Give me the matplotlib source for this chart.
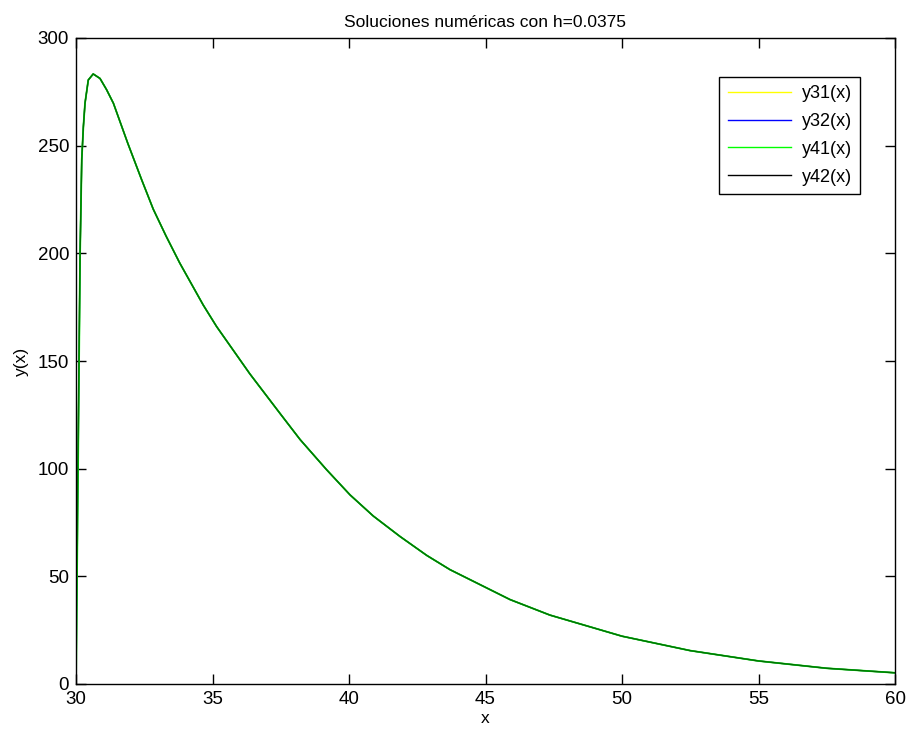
import matplotlib
matplotlib.use("Agg")
import matplotlib.pyplot as plt

plt.rcParams['font.family'] = ['Liberation Sans', 'DejaVu Sans']

# Values
x_vals = [30.0, 30.15, 30.21, 30.27, 30.33, 30.45, 30.63, 30.88, 31.12, 31.37,
          31.9, 32.41, 32.83, 33.3, 33.8, 34.66, 35.15, 35.76, 36.37, 37.47,
          38.21, 39.18, 40.04, 40.89, 41.87, 42.85, 43.7, 45.9, 47.36, 50.0,
          52.5, 55.0, 57.5, 60.0]
y_vals = [0.0, 200.0, 243.4, 258.8, 269.7, 280.5, 283.3, 281.2, 276.0, 269.7,
          251.0, 234.0, 220.5, 208.0, 195.5, 176.0, 166.0, 155.0, 144.0, 125.7,
          113.5, 99.5, 87.8, 78.0, 68.5, 59.7, 53.1, 39.2, 32.0, 22.2,
          15.5, 10.7, 7.3, 5.2]
y42_start = 19.5  # black series starts here at x=30

series_names = ['y31(x)', 'y32(x)', 'y41(x)', 'y42(x)']
series_colors = ['#ffff00', '#0000ff', '#00ff00', '#000000']
x_ticks = [30, 35, 40, 45, 50, 55, 60]
y_ticks = [0, 50, 100, 150, 200, 250, 300]

fig = plt.figure(figsize=(9.06, 7.31), dpi=100)
ax = fig.add_axes([76/906, 1-684/731, (895-76)/906, (684-38)/731])

y42 = [y42_start] + y_vals[1:]
ax.plot(x_vals, y_vals, color=series_colors[0], lw=1.0, label=series_names[0])
ax.plot(x_vals, y_vals, color=series_colors[1], lw=1.0, label=series_names[1])
ax.plot(x_vals, y_vals, color=series_colors[2], lw=1.3, label=series_names[2])
ax.plot(x_vals, y42, color=series_colors[3], lw=1.0, alpha=0.55, label=series_names[3])

ax.set_xlim(30, 60)
ax.set_ylim(0, 300)
ax.set_xticks(x_ticks)
ax.set_yticks(y_ticks)
ax.tick_params(direction='in', length=7, width=1, top=True, right=True,
               labelsize=13.5, pad=5)
for s in ax.spines.values():
    s.set_linewidth(1.0)

ax.set_xlabel('x', fontsize=12.5, labelpad=2)
ax.set_ylabel('y(x)', fontsize=12.5, labelpad=6)
ax.set_title('Soluciones numéricas con h=0.0375', fontsize=12.5, pad=8)

leg = ax.legend(loc='upper right', bbox_to_anchor=(0.957, 0.9396), fontsize=13,
                fancybox=False, edgecolor='black', framealpha=1,
                handlelength=3.5, borderpad=0.45, labelspacing=0.6,
                handletextpad=0.6, borderaxespad=0)
leg.get_frame().set_linewidth(1.0)
for h in leg.legend_handles:
    h.set_alpha(1)
    h.set_linewidth(1.0)

fig.savefig('out.png', dpi=100)
